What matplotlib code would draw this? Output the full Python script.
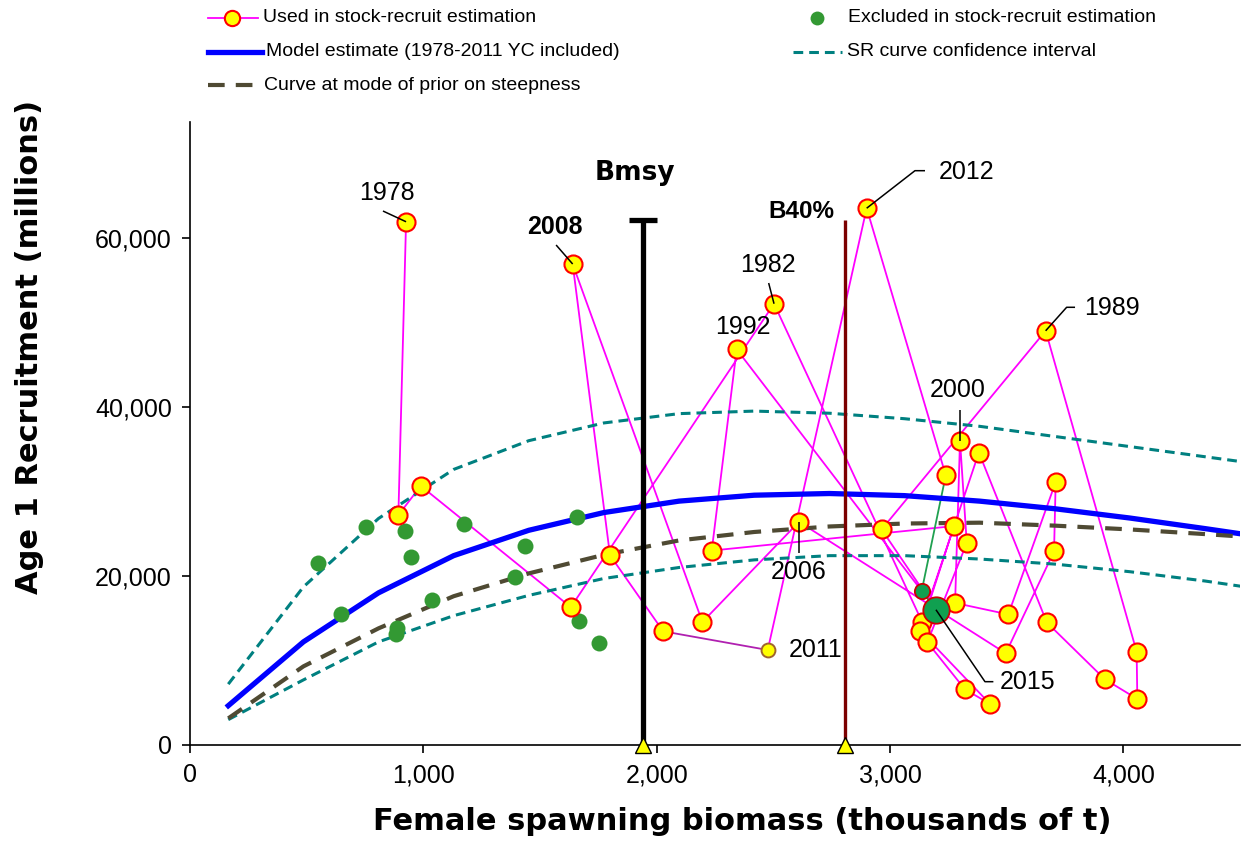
import matplotlib
matplotlib.use("Agg")
import matplotlib.pyplot as plt

plt.rcParams['lines.scale_dashes'] = False

# ---------------- data ----------------
# year classes used in the stock-recruit fit (female SSB in kt, age-1 recruits in millions)
years_used = list(range(1978, 2014))
ssb_used = [926, 893, 989, 1632, 2503, 3137, 3381, 3672, 3921, 4060, 4057, 3667,
            2964, 3195, 2343, 2236, 3274, 3129, 3429, 3321, 3160, 3329, 3300, 3279,
            3507, 3710, 3703, 3496, 2610, 2196, 1640, 1800, 2028, 2476, 2900, 3239]
rec_used = [61900, 27200, 30650, 16300, 52200, 14600, 34600, 14500, 7770, 5440, 11040, 49000,
            25500, 16100, 46800, 23000, 25900, 13500, 4850, 6590, 12150, 23900, 36000, 16800,
            15450, 31100, 22900, 10850, 26400, 14550, 56900, 22450, 13450, 11240, 63500, 31900]

# year classes excluded from the fit
ssb_excl = [550, 754, 921, 947, 647, 1036, 886, 883, 1174, 1436, 1393, 1657, 1667, 1754]
rec_excl = [21570, 25830, 25350, 22280, 15500, 17150, 13810, 13130, 26180, 23540, 19910,
            26940, 14670, 12030]

# most recent year classes
years_recent = [2014, 2015]
ssb_recent = [3136, 3197]
rec_recent = [18250, 16000]

# stock-recruit curves
curve_ssb = [164, 486, 808, 1130, 1452, 1774, 2096, 2418, 2740, 3062, 3384, 3706, 4028, 4350, 4672]
model_rec = [4650, 12200, 18000, 22400, 25400, 27500, 28850, 29550, 29750, 29500, 28850,
             27950, 26850, 25600, 24300]
prior_rec = [3150, 9300, 13800, 17600, 20300, 22500, 24200, 25200, 25850, 26200, 26300,
             25950, 25500, 24950, 24350]
upper_ci = [7200, 18700, 26800, 32600, 36000, 38100, 39200, 39500, 39250, 38600, 37700,
            36500, 35300, 34100, 32900]
lower_ci = [3000, 7700, 12200, 15300, 17700, 19700, 21000, 21900, 22400, 22400, 22000,
            21400, 20500, 19400, 18100]

# reference points
bmsy = 1941
b40 = 2807
ref_top = 62100

x_ticks = [0, 1000, 2000, 3000, 4000]
x_tick_labels = ["0", "1,000", "2,000", "3,000", "4,000"]
y_ticks = [0, 20000, 40000, 60000]
y_tick_labels = ["0", "20,000", "40,000", "60,000"]

# ---------------- figure ----------------
W, H = 1243, 844
fig = plt.figure(figsize=(W / 100, H / 100), dpi=100)
ax = fig.add_axes([190 / W, (H - 745) / H, 1050 / W, 623 / H])
ax.set_xlim(0, 4500)
ax.set_ylim(0, 73700)

ARIAL = "Liberation Sans"
VERD = "DejaVu Sans"

YEL, RED, PINK = "#FFFF00", "#FF0000", "#FF00FF"
TEAL, BLUE, BROWN = "#008080", "#0000FF", "#4F4A33"

# curves
l, = ax.plot(curve_ssb, upper_ci, color=TEAL, lw=2.2, zorder=3)
l.set_dashes([7, 4.3])
l, = ax.plot(curve_ssb, lower_ci, color=TEAL, lw=2.2, zorder=3)
l.set_dashes([7, 4.3])
ax.plot(curve_ssb, model_rec, color=BLUE, lw=3.8, zorder=3, solid_joinstyle='round')
l, = ax.plot(curve_ssb, prior_rec, color=BROWN, lw=3.0, zorder=3)
l.set_dashes([12, 8])

# trajectory of used year classes
i10 = years_used.index(2010)
i11 = years_used.index(2011)
ax.plot(ssb_used[:i10 + 1], rec_used[:i10 + 1], color=PINK, lw=1.3, zorder=2)
ax.plot(ssb_used[i10:i11 + 1], rec_used[i10:i11 + 1], color="#B020B0", lw=1.3, zorder=2)
ax.plot(ssb_used[i11:], rec_used[i11:], color=PINK, lw=1.3, zorder=2)
ax.plot([ssb_used[-1]] + ssb_recent, [rec_used[-1]] + rec_recent, color="#20A050", lw=1.3, zorder=2)

# excluded year classes
ax.plot(ssb_excl, rec_excl, 'o', color="#339933", ms=11.5, mec="none", zorder=4)

# used year classes
for yr, s, r in zip(years_used, ssb_used, rec_used):
    if yr == 2011:
        ax.plot(s, r, 'o', mfc=YEL, mec="#A0642D", mew=1.4, ms=10, zorder=4)
    else:
        ax.plot(s, r, 'o', mfc=YEL, mec=RED, mew=1.5, ms=13, zorder=4)

# recent year classes
ax.plot(ssb_recent[0], rec_recent[0], 'o', mfc="#10A050", mec="#CC0000", mew=1.3, ms=11, zorder=5)
ax.plot(ssb_recent[1], rec_recent[1], 'o', mfc="#10A050", mec="#CC0000", mew=1.3, ms=19, zorder=5)

# reference lines
ax.plot([bmsy, bmsy], [0, ref_top], color="black", lw=3.8, zorder=6, solid_capstyle='butt')
ax.plot([bmsy - 60, bmsy + 60], [ref_top, ref_top], color="black", lw=3.8, zorder=6,
        solid_capstyle='butt')
ax.plot([b40, b40], [0, ref_top], color="#7B0000", lw=2.4, zorder=6, solid_capstyle='butt')
ax.plot([bmsy, b40], [0, 0], '^', mfc=YEL, mec="black", mew=1.0, ms=12, zorder=7, clip_on=False)

ax.text(1907, 67670, "Bmsy", fontsize=19, fontweight='bold', family=VERD,
        ha='center', va='center', zorder=8)
ax.text(2622, 63090, "B40%", fontsize=17.5, fontweight='bold', family=ARIAL,
        ha='center', va='center', zorder=8)

# year labels with leaders
def label(txt, tx, ty, path=None, bold=False):
    ax.text(tx, ty, txt, fontsize=18, family=ARIAL, fontweight='bold' if bold else 'normal',
            ha='center', va='center', zorder=8)
    if path:
        xs, ys = zip(*path)
        ax.plot(xs, ys, color="black", lw=1.1, zorder=8, solid_capstyle='butt')

def pt(yr):
    i = years_used.index(yr)
    return ssb_used[i], rec_used[i]

label("1978", 844, 65300, [(827, 63170), pt(1978)])
label("2008", 1564, 61280, [(1569, 59150), pt(2008)], bold=True)
label("2012", 3329, 67820, [pt(2012), (3107, 67940), (3150, 67940)])
label("1982", 2477, 56780, [(2480, 54650), pt(1982)])
label("1992", 2370, 49490)
label("2000", 3291, 42000, [(3300, 39630), pt(2000)])
label("1989", 3950, 51700, [pt(1989), (3757, 51780), (3793, 51780)])
label("2006", 2610, 20500, [pt(2006), (2610, 22680)])
label("2011", 2683, 11240)
label("2015", 3591, 7490, [(ssb_recent[1], rec_recent[1]), (3407, 7490), (3443, 7490)])

# axes styling
for side in ("top", "right"):
    ax.spines[side].set_visible(False)
for side in ("left", "bottom"):
    ax.spines[side].set_linewidth(1.2)
ax.set_xticks(x_ticks)
ax.set_xticklabels(x_tick_labels, family=ARIAL, fontsize=18)
ax.set_yticks(y_ticks)
ax.set_yticklabels(y_tick_labels, family=ARIAL, fontsize=18)
ax.tick_params(direction='out', length=6, width=1.2, pad=7)

fig.text(373 / W, 1 - 822 / H, "Female spawning biomass (thousands of t)", family=VERD,
         fontweight='bold', fontsize=22, ha='left', va='center')
fig.text(30 / W, 1 - 347 / H, "Age 1 Recruitment (millions)", family=VERD,
         fontweight='bold', fontsize=22, ha='center', va='center', rotation=90)

# legend drawn in pixel space
ov = fig.add_axes([0, 0, 1, 1], zorder=10)
ov.set_xlim(0, W)
ov.set_ylim(H, 0)
ov.axis('off')
ov.patch.set_alpha(0)

def leg_text(x, y, s):
    ov.text(x, y, s, family=ARIAL, fontsize=14, ha='left', va='center')

r1, r2, r3 = 18, 52, 85
ov.plot([208, 258], [r1, r1], color=PINK, lw=1.3)
ov.plot([232], [r1], 'o', mfc=YEL, mec=RED, mew=1.5, ms=11)
leg_text(263, r1, "Used in stock-recruit estimation")
ov.plot([817], [r1], 'o', color="#339933", ms=10, mec="none")
leg_text(848, r1, "Excluded in stock-recruit estimation")

ov.plot([208, 262], [r2, r2], color=BLUE, lw=3.8)
leg_text(266, r2, "Model estimate (1978-2011 YC included)")
l, = ov.plot([793, 842], [r2, r2], color=TEAL, lw=2.2)
l.set_dashes([7, 4.3])
leg_text(847, r2, "SR curve confidence interval")

l, = ov.plot([208, 260], [r3, r3], color=BROWN, lw=3.0)
l.set_dashes([12, 8])
leg_text(264, r3, "Curve at mode of prior on steepness")

fig.savefig("out.png", dpi=100)
